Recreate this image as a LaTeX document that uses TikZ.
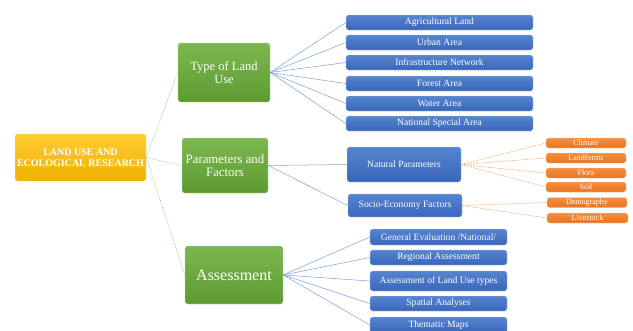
\documentclass[tikz,border=0pt]{standalone}
\usepackage{fontspec}
\setmainfont{Liberation Serif}
\begin{document}
\begin{tikzpicture}[x=1pt,y=-1pt,
  box/.style={rounded corners=2.5pt, inner sep=0pt, align=center, text=white,
    draw=#1!35!white, line width=0.4pt},
  gold/.style={box=goldb, top color=goldt, bottom color=goldb, font=\bfseries\fontsize{10}{11}\selectfont},
  green/.style={box=greenb, top color=greent, bottom color=greenb},
  blue/.style={box=blueb, top color=bluet, bottom color=blueb, font=\fontsize{9.6}{10}\selectfont},
  orange/.style={box=orangeb, top color=oranget, bottom color=orangeb, font=\fontsize{8}{8}\selectfont},
  gline/.style={draw=glink, line width=0.5pt, dash pattern=on 2pt off 1pt},
  bline/.style={draw=blink, line width=0.5pt},
  oline/.style={draw=olink, line width=0.5pt, dash pattern=on 2pt off 1pt}
]
\definecolor{goldt}{HTML}{FFCC33}
\definecolor{goldb}{HTML}{F2B100}
\definecolor{greent}{HTML}{7DB84F}
\definecolor{greenb}{HTML}{5C9A30}
\definecolor{bluet}{HTML}{5584CF}
\definecolor{blueb}{HTML}{3A66BA}
\definecolor{oranget}{HTML}{F58F3E}
\definecolor{orangeb}{HTML}{E9731F}
\definecolor{glink}{HTML}{A7CF8A}
\definecolor{blink}{HTML}{7F9DDB}
\definecolor{olink}{HTML}{F3A66E}

\useasboundingbox (0,0) rectangle (633,330);

% root and main branches
\node[gold, minimum width=131pt, minimum height=47pt] (root) at (80.5,157.5) {LAND USE AND\\ECOLOGICAL RESEARCH};
\node[green, minimum width=92pt, minimum height=59pt, font=\fontsize{12.5}{13.5}\selectfont] (type) at (224,72.5) {Type of Land\\Use};
\node[green, minimum width=86pt, minimum height=55pt, font=\fontsize{12.8}{13.5}\selectfont] (param) at (225,165.5) {Parameters and\\Factors};
\node[green, minimum width=98pt, minimum height=58pt, font=\fontsize{16}{18}\selectfont] (assess) at (234,275) {Assessment};

% land use types
\foreach \n/\y/\t in {agri/22.5/Agricultural Land, urban/42.5/Urban Area, infra/62.5/Infrastructure Network,
  forest/83.5/Forest Area, water/103.5/Water Area, national/123.5/National Special Area}
  \node[blue, minimum width=187pt, minimum height=15pt] (\n) at (439.5,\y) {\t};

% parameters
\node[blue, minimum width=114pt, minimum height=35pt] (natural) at (404,164.5) {Natural Parameters};
\node[blue, minimum width=114pt, minimum height=23pt] (socio) at (405,205.5) {Socio-Economy Factors};

\foreach \n/\y/\t in {climate/143/Climate, landforms/158/Landforms, flora/173/Flora, soil/187/Soil}
  \node[orange, minimum width=80pt, minimum height=10pt] (\n) at (586,\y) {\t};
\node[orange, minimum width=80pt, minimum height=10pt] (demo) at (587,202.5) {Demography};
\node[orange, minimum width=81pt, minimum height=10pt] (live) at (587.5,218) {Livestock};

% assessment
\node[blue, minimum width=137pt, minimum height=16pt] (general) at (438.5,237) {General Evaluation /National/};
\node[blue, minimum width=137pt, minimum height=15pt] (regional) at (438.5,257.5) {Regional Assessment};
\node[blue, minimum width=137pt, minimum height=20pt] (landuse) at (438.5,281) {Assessment of Land Use types};
\node[blue, minimum width=137pt, minimum height=15pt] (spatial) at (438.5,303.5) {Spatial Analyses};
\node[blue, minimum width=137pt, minimum height=16pt] (thematic) at (438.5,325) {Thematic Maps};

% connectors
\foreach \t in {type,param,assess} \draw[gline] (root.east) -- (\t.west);
\foreach \t in {agri,urban,infra,forest,water,national} \draw[bline] (type.east) -- (\t.west);
\foreach \t in {natural,socio} \draw[bline] (param.east) -- (\t.west);
\foreach \t in {climate,landforms,flora,soil} \draw[oline] (natural.east) -- (\t.west);
\foreach \t in {demo,live} \draw[oline] (socio.east) -- (\t.west);
\foreach \t in {general,regional,landuse,spatial,thematic} \draw[bline] (assess.east) -- (\t.west);
\end{tikzpicture}
\end{document}
